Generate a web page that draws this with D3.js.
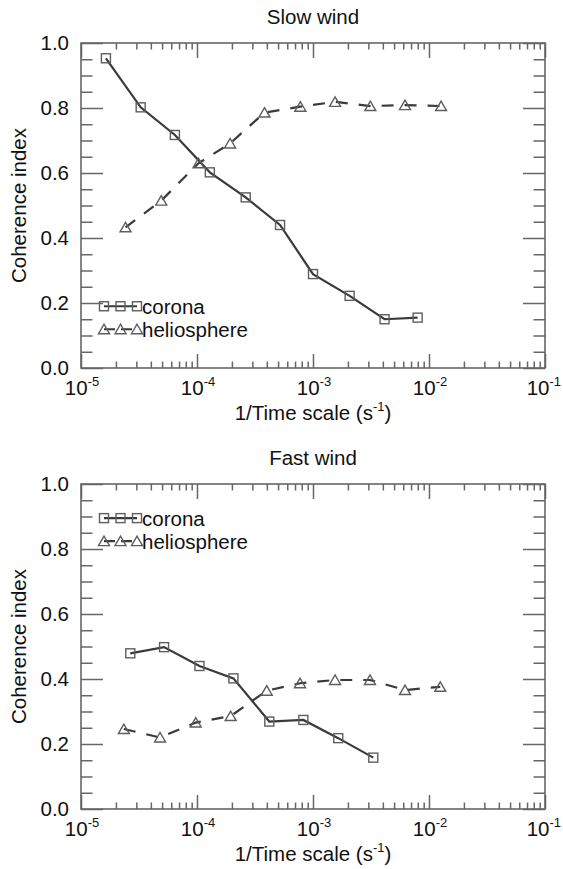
<!DOCTYPE html>
<html>
<head>
<meta charset="utf-8">
<script src="https://cdn.jsdelivr.net/npm/d3@7"></script>
<style>
  body { margin: 0; background: #fff; }
  text { font-family: "Liberation Sans", Arial, sans-serif; fill: #111; }
</style>
</head>
<body>
<div id="chart"></div>
<script>
// Data
const slowCoronaX = [1.64e-5, 3.27e-5, 6.45e-5, 1.29e-4, 2.63e-4, 5.2e-4, 1.0e-3, 2.07e-3, 4.14e-3, 7.98e-3];
const slowCoronaY = [0.953, 0.802, 0.717, 0.602, 0.525, 0.44, 0.289, 0.222, 0.150, 0.155];
const slowHelioX = [2.42e-5, 4.92e-5, 1.03e-4, 1.93e-4, 3.82e-4, 7.78e-4, 1.55e-3, 3.12e-3, 6.21e-3, 1.27e-2];
const slowHelioY = [0.433, 0.515, 0.630, 0.691, 0.786, 0.804, 0.819, 0.806, 0.809, 0.806];

const fastCoronaX = [2.66e-5, 5.2e-5, 1.05e-4, 2.06e-4, 4.2e-4, 8.26e-4, 1.65e-3, 3.31e-3];
const fastCoronaY = [0.479, 0.498, 0.440, 0.402, 0.269, 0.274, 0.218, 0.158];
const fastHelioX = [2.34e-5, 4.8e-5, 9.75e-5, 1.95e-4, 3.99e-4, 7.73e-4, 1.55e-3, 3.1e-3, 6.21e-3, 1.25e-2];
const fastHelioY = [0.246, 0.220, 0.266, 0.286, 0.364, 0.387, 0.397, 0.397, 0.366, 0.376];

const panelTitles = ["Slow wind", "Fast wind"];
const seriesNames = ["corona", "heliosphere"];
const xDecades = [-5, -4, -3, -2, -1];
const yMajor = [0, 0.2, 0.4, 0.6, 0.8, 1.0];

const width = 563, height = 869;
const left = 81, right = 545;
const panels = [
  {top: 43, bottom: 368, title: panelTitles[0],
   corona: slowCoronaX.map((x, i) => [x, slowCoronaY[i]]),
   helio: slowHelioX.map((x, i) => [x, slowHelioY[i]]),
   legendY: 0.19},
  {top: 484, bottom: 809, title: panelTitles[1],
   corona: fastCoronaX.map((x, i) => [x, fastCoronaY[i]]),
   helio: fastHelioX.map((x, i) => [x, fastHelioY[i]]),
   legendY: 0.895}
];

const frameColor = "#666";
const lineColor = "#3a3a3a";
const markColor = "#5e5e5e";
const dash = "12,11";

const svg = d3.select("#chart").append("svg")
  .attr("width", width)
  .attr("height", height);

function drawPanel(p) {
  const x = d3.scaleLog().domain([1e-5, 1e-1]).range([left, right]);
  const y = d3.scaleLinear().domain([0, 1]).range([p.bottom, p.top]);
  const g = svg.append("g");

  // minor x ticks 2..9 per decade
  const minorX = [];
  for (let e = -5; e < -1; e++) for (let k = 2; k <= 9; k++) minorX.push(k * Math.pow(10, e));
  const minorY = d3.range(0, 1.0001, 0.05).filter(v => Math.abs(v * 5 - Math.round(v * 5)) > 1e-6);
  const majorX = xDecades.map(e => Math.pow(10, e));

  // ticks on all four sides, pointing inward
  g.append("g").attr("transform", `translate(0,${p.bottom})`)
    .call(d3.axisBottom(x).tickValues(minorX).tickSize(-6.5).tickFormat(""));
  g.append("g").attr("transform", `translate(0,${p.bottom})`)
    .call(d3.axisBottom(x).tickValues(majorX).tickSize(-14).tickFormat(""));
  g.append("g").attr("transform", `translate(0,${p.top})`)
    .call(d3.axisTop(x).tickValues(minorX).tickSize(-6.5).tickFormat(""));
  g.append("g").attr("transform", `translate(0,${p.top})`)
    .call(d3.axisTop(x).tickValues(majorX).tickSize(-15).tickFormat(""));
  g.append("g").attr("transform", `translate(${left},0)`)
    .call(d3.axisLeft(y).tickValues(minorY).tickSize(-11.5).tickFormat(""));
  g.append("g").attr("transform", `translate(${left},0)`)
    .call(d3.axisLeft(y).tickValues(yMajor).tickSize(-22).tickFormat(""));
  g.append("g").attr("transform", `translate(${right},0)`)
    .call(d3.axisRight(y).tickValues(minorY).tickSize(-11.5).tickFormat(""));
  g.append("g").attr("transform", `translate(${right},0)`)
    .call(d3.axisRight(y).tickValues(yMajor).tickSize(-22).tickFormat(""));

  g.selectAll(".domain").remove();
  g.selectAll(".tick line").attr("stroke", frameColor).attr("stroke-width", 1.5);

  g.append("rect")
    .attr("x", left).attr("y", p.top)
    .attr("width", right - left).attr("height", p.bottom - p.top)
    .attr("fill", "none").attr("stroke", frameColor).attr("stroke-width", 1.6);

  // y tick labels
  g.selectAll(".ylab").data(yMajor).enter().append("text")
    .attr("x", left - 12).attr("y", d => y(d) + 7)
    .attr("text-anchor", "end").style("font-size", "20.5px")
    .text(d => d.toFixed(1));

  // x tick labels 10^n
  xDecades.forEach((e, i) => {
    const last = i === xDecades.length - 1;
    const t = g.append("text")
      .attr("x", last ? 561 : x(Math.pow(10, e)) + 1).attr("y", p.bottom + 27)
      .attr("text-anchor", last ? "end" : "middle").style("font-size", "20.5px");
    t.append("tspan").text("10");
    t.append("tspan").attr("dy", -9).style("font-size", "13px").text(String(e));
  });

  // titles
  g.append("text").attr("x", (left + right) / 2).attr("y", p.top - 19)
    .attr("text-anchor", "middle").style("font-size", "20.5px").text(p.title);

  const xl = g.append("text").attr("x", (left + right) / 2).attr("y", p.bottom + 52)
    .attr("text-anchor", "middle").style("font-size", "20.5px");
  xl.append("tspan").text("1/Time scale (s");
  xl.append("tspan").attr("dy", -9).style("font-size", "13px").text("-1");
  xl.append("tspan").attr("dy", 9).text(")");

  g.append("text")
    .attr("transform", `translate(26,${(p.top + p.bottom) / 2}) rotate(-90)`)
    .attr("text-anchor", "middle").style("font-size", "20.5px").text("Coherence index");

  const line = d3.line().x(d => x(d[0])).y(d => y(d[1]));

  g.append("path").datum(p.corona).attr("d", line)
    .attr("fill", "none").attr("stroke", lineColor).attr("stroke-width", 2.2);
  g.append("path").datum(p.helio).attr("d", line)
    .attr("fill", "none").attr("stroke", lineColor).attr("stroke-width", 2.2)
    .attr("stroke-dasharray", dash);

  drawSquares(g, p.corona.map(d => [x(d[0]), y(d[1])]));
  drawTriangles(g, p.helio.map(d => [x(d[0]), y(d[1])]));

  // legend
  const lx = [104, 120.5, 137];
  const ly1 = y(p.legendY), ly2 = ly1 + 23;
  g.append("line").attr("x1", lx[0]).attr("x2", lx[2]).attr("y1", ly1).attr("y2", ly1)
    .attr("stroke", lineColor).attr("stroke-width", 2.2);
  drawSquares(g, lx.map(v => [v, ly1]));
  g.append("text").attr("x", 142).attr("y", ly1 + 7.5).style("font-size", "20.5px").text(seriesNames[0]);

  g.append("line").attr("x1", lx[0]).attr("x2", lx[2]).attr("y1", ly2).attr("y2", ly2)
    .attr("stroke", lineColor).attr("stroke-width", 2.2).attr("stroke-dasharray", "11,6");
  drawTriangles(g, lx.map(v => [v, ly2]));
  g.append("text").attr("x", 142).attr("y", ly2 + 7.5).style("font-size", "20.5px").text(seriesNames[1]);
}

function drawSquares(g, pts) {
  g.selectAll(null).data(pts).enter().append("rect")
    .attr("x", d => d[0] - 4.5).attr("y", d => d[1] - 4.5)
    .attr("width", 9).attr("height", 9)
    .attr("fill", "none").attr("stroke", markColor).attr("stroke-width", 1.4);
}

function drawTriangles(g, pts) {
  g.selectAll(null).data(pts).enter().append("path")
    .attr("d", d => `M${d[0] - 5.5},${d[1] + 4.5}L${d[0]},${d[1] - 5}L${d[0] + 5.5},${d[1] + 4.5}Z`)
    .attr("fill", "none").attr("stroke", markColor).attr("stroke-width", 1.4);
}

panels.forEach(drawPanel);
</script>
</body>
</html>
